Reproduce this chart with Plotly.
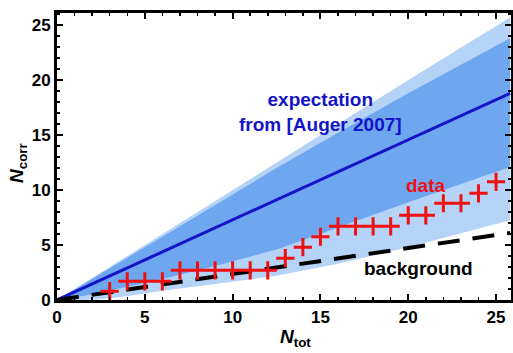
import plotly.graph_objects as go

# ---- data ----
n_data = [3, 4, 5, 6, 7, 8, 9, 10, 11, 12, 13, 14, 15, 16, 17, 18, 19, 20, 21, 22, 23, 24, 25]
corr_data = [0.8, 1.7, 1.7, 1.7, 2.7, 2.7, 2.7, 2.7, 2.7, 2.7, 3.8, 4.8, 5.75, 6.7, 6.7, 6.7, 6.7,
             7.7, 7.7, 8.8, 8.8, 9.7, 10.75]

n_band = [0, 2, 4, 6, 9, 12.5, 16, 20, 25.8]
light_upper = [0, 2.0, 4.0, 6.0, 9.0, 12.5, 16.0, 20.0, 25.7]
dark_upper = [0, 1.95, 3.85, 5.75, 8.6, 12.0, 15.2, 18.8, 23.8]
dark_lower = [0, 0.5, 1.2, 1.9, 3.1, 4.6, 6.6, 8.9, 12.1]
light_lower = [0, 0.0, 0.35, 0.85, 1.45, 2.2, 3.3, 4.8, 7.25]

n_line = [0, 25.8]
expectation = [0, 18.8]
background = [0, 6.1]

x_ticks = [0, 5, 10, 15, 20, 25]
y_ticks = [0, 5, 10, 15, 20, 25]

LIGHT = "#b5d2f7"
DARK = "#6ea6f0"
BLUE = "#1414c8"
RED = "#ee1111"
FONT = "Liberation Sans"

fig = go.Figure()
fig.add_trace(go.Scatter(x=n_band, y=light_lower, mode="lines", line=dict(width=0), showlegend=False))
fig.add_trace(go.Scatter(x=n_band, y=light_upper, mode="lines", line=dict(width=0), fill="tonexty",
                         fillcolor=LIGHT, showlegend=False))
fig.add_trace(go.Scatter(x=n_band, y=dark_lower, mode="lines", line=dict(width=0), showlegend=False))
fig.add_trace(go.Scatter(x=n_band, y=dark_upper, mode="lines", line=dict(width=0), fill="tonexty",
                         fillcolor=DARK, showlegend=False))
fig.add_trace(go.Scatter(x=n_line, y=expectation, mode="lines", line=dict(color=BLUE, width=3),
                         showlegend=False))
fig.add_trace(go.Scatter(x=n_line, y=background, mode="lines",
                         line=dict(color="black", width=4, dash="22px,13px"), showlegend=False))
fig.add_trace(go.Scatter(x=n_data, y=corr_data, mode="markers",
                         marker=dict(symbol="cross-thin", size=13, line=dict(color=RED, width=3)),
                         showlegend=False))

fig.add_annotation(x=15.0, y=17.1, text="expectation<br>from [Auger 2007]", showarrow=False,
                   font=dict(family=FONT, size=19, color=BLUE, weight="bold"), align="center")
fig.add_annotation(x=21.0, y=10.4, text="data", showarrow=False,
                   font=dict(family=FONT, size=19, color=RED, weight="bold"))
fig.add_annotation(x=20.6, y=2.9, text="background", showarrow=False,
                   font=dict(family=FONT, size=19, color="black", weight="bold"))

# axis titles placed in paper coordinates
fig.add_annotation(xref="paper", yref="paper", x=(295 - 57) / 454, y=-(338 - 300) / 287,
                   text="<i>N</i><sub>tot</sub>", showarrow=False, xanchor="center", yanchor="middle",
                   font=dict(family=FONT, size=19, color="black", weight="bold"))
fig.add_annotation(xref="paper", yref="paper", x=-(57 - 18) / 454, y=(300 - 163) / 287,
                   text="<i>N</i><sub>corr</sub>", showarrow=False, textangle=-90,
                   xanchor="center", yanchor="middle",
                   font=dict(family=FONT, size=19, color="black", weight="bold"))

axis_common = dict(
    showgrid=False, zeroline=False, showline=True, linecolor="black", linewidth=3,
    mirror="allticks", ticks="inside", ticklen=6, tickwidth=2, tickcolor="black",
    tickfont=dict(family=FONT, size=17, color="black", weight="bold"), automargin=False,
    minor=dict(dtick=1, ticks="inside", ticklen=3, tickwidth=1.5, tickcolor="black"),
)

fig.update_xaxes(range=[0, 25.85], tickvals=x_ticks, ticktext=[str(v) for v in x_ticks],
                 **axis_common)
fig.update_yaxes(range=[0, 26.1], tickvals=y_ticks, ticktext=[str(v) for v in y_ticks],
                 **axis_common)

fig.update_layout(width=513, height=353, margin=dict(l=57, r=2, t=13, b=53),
                  plot_bgcolor="white", paper_bgcolor="white", hovermode=False)

fig.write_html("out.html", config={"displayModeBar": False, "staticPlot": True})

# remove the default page margin so the figure sits at the window's top-left corner
with open("out.html", "r", encoding="utf-8") as f:
    html = f.read()
html = html.replace("<head>", "<head><style>html,body{margin:0;padding:0;overflow:hidden;}</style>", 1)
with open("out.html", "w", encoding="utf-8") as f:
    f.write(html)
